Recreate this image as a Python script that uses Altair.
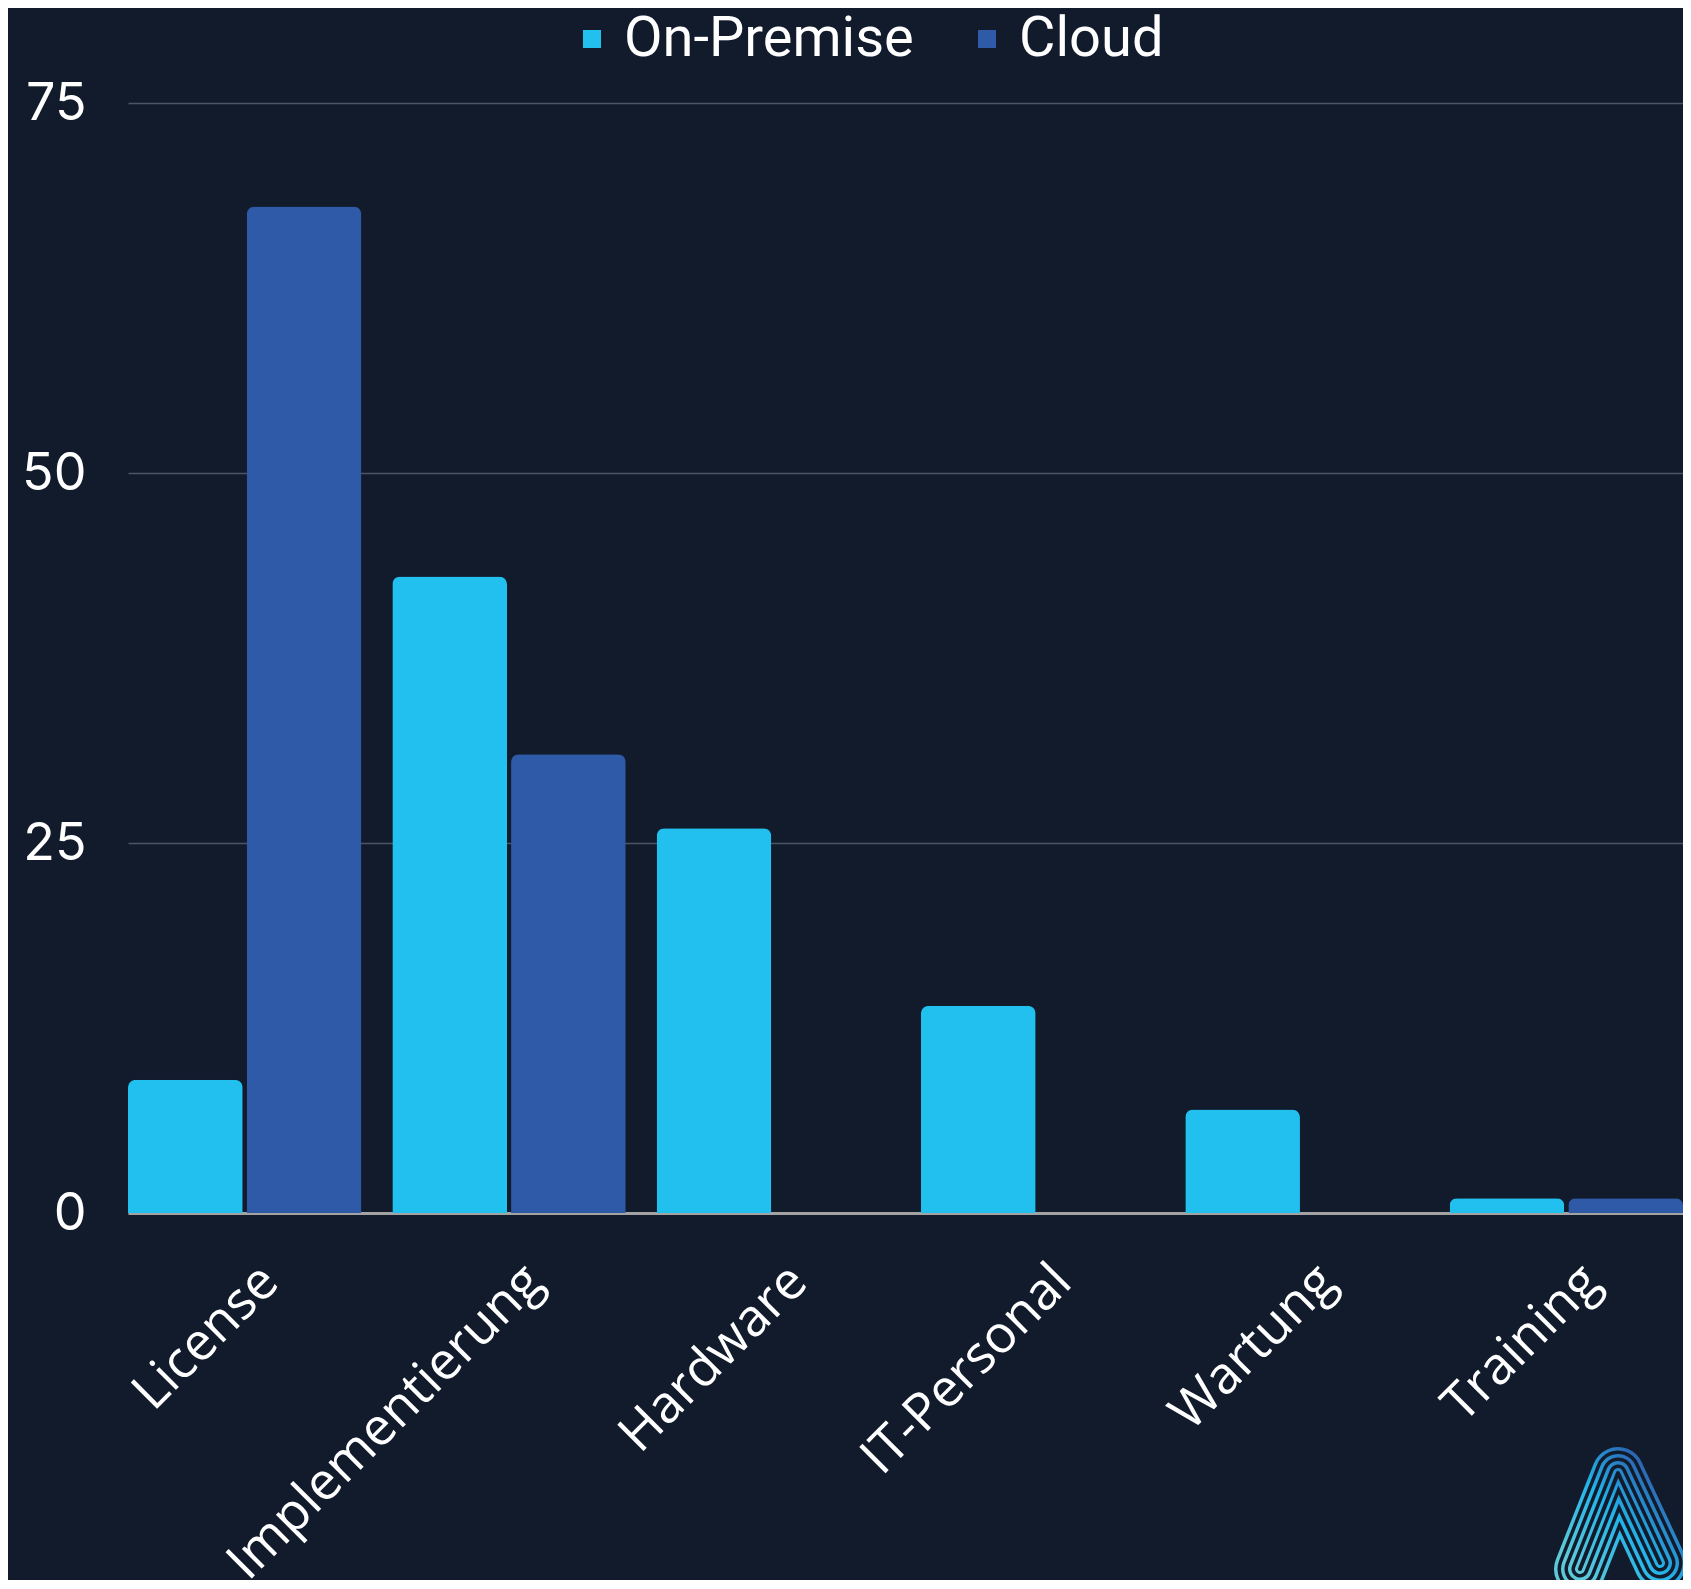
import base64
import altair as alt
import pandas as pd

categories = ["License", "Implementierung", "Hardware", "IT-Personal", "Wartung", "Training"]
on_premise = [9, 43, 26, 14, 7, 1]
cloud = [68, 31, 0, 0, 0, 1]
series = ["On-Premise", "Cloud"]
colors = ["#22c0ef", "#2e5aa8"]
y_ticks = [0, 25, 50, 75]
bg = "#111b2c"

rows = []
for c, a, b in zip(categories, on_premise, cloud):
    rows.append({"Kategorie": c, "Serie": series[0], "Wert": a})
    rows.append({"Kategorie": c, "Serie": series[1], "Wert": b})
df = pd.DataFrame(rows)

bars = alt.Chart(df).mark_bar(cornerRadiusTopLeft=8, cornerRadiusTopRight=8).encode(
    x=alt.X("Kategorie:N", sort=categories, title=None,
            scale=alt.Scale(paddingInner=0.117, paddingOuter=0),
            axis=alt.Axis(labelAngle=-45, labelAlign="right", labelBaseline="middle",
                          labelFont="Open Sans", labelFontSize=52, labelColor="white",
                          labelPadding=60, labelOffset=25, ticks=False,
                          domainColor="#a3a3a3", domainWidth=3, labelLimit=1000)),
    xOffset=alt.XOffset("Serie:N", sort=series,
                        scale=alt.Scale(paddingInner=0.034, paddingOuter=0)),
    y=alt.Y("Wert:Q", scale=alt.Scale(domain=[0, 75], nice=False), title=None,
            axis=alt.Axis(values=y_ticks, labelFont="Inter", labelFontSize=52,
                          labelColor="white", labelPadding=42, ticks=False, domain=False,
                          gridColor="#4b5563", gridWidth=1.5)),
    color=alt.Color("Serie:N", sort=series,
                    scale=alt.Scale(domain=series, range=colors),
                    legend=alt.Legend(title=None, orient="none", legendX=436, legendY=-92,
                                      direction="horizontal", symbolType="square",
                                      symbolSize=324, labelFont="Roboto", labelFontSize=56,
                                      labelColor="white", columnPadding=45, labelOffset=4,
                                      symbolStrokeWidth=0, labelLimit=1000)),
)

# decorative logo (bottom-right corner)
layers_svg = ""
widths = [52, 45, 38, 31, 24, 17, 10, 4]
for i, w in enumerate(widths):
    stroke = "url(#g)" if i % 2 == 0 else bg
    layers_svg += (f'<path d="M 30 130 L 68 34 L 110 124" fill="none" stroke="{stroke}" '
                   f'stroke-width="{w}" stroke-linecap="round" stroke-linejoin="round"/>')
svg = ('<svg xmlns="http://www.w3.org/2000/svg" width="140" height="160" viewBox="0 0 140 160">'
       '<defs><linearGradient id="g" x1="0" y1="1" x2="1" y2="0">'
       '<stop offset="0" stop-color="#5cc8d8"/><stop offset="0.5" stop-color="#22b4ea"/>'
       '<stop offset="1" stop-color="#2e5aa8"/></linearGradient></defs>'
       + layers_svg + '</svg>')
logo_url = "data:image/svg+xml;base64," + base64.b64encode(svg.encode()).decode()

logo = alt.Chart(pd.DataFrame({"logo": [0]})).mark_image(
    width=140, height=160, align="left", baseline="top"
).encode(x=alt.value(1422), y=alt.value(1336), url=alt.value(logo_url))

chart = alt.layer(bars, logo).properties(
    width=1555, height=1110, background=bg,
    padding={"left": 120, "top": 95, "right": 0, "bottom": 367},
    autosize=alt.AutoSizeParams(type="none"),
).configure_view(stroke=None)

chart.save("out.html", embed_options={"renderer": "svg", "actions": False})
